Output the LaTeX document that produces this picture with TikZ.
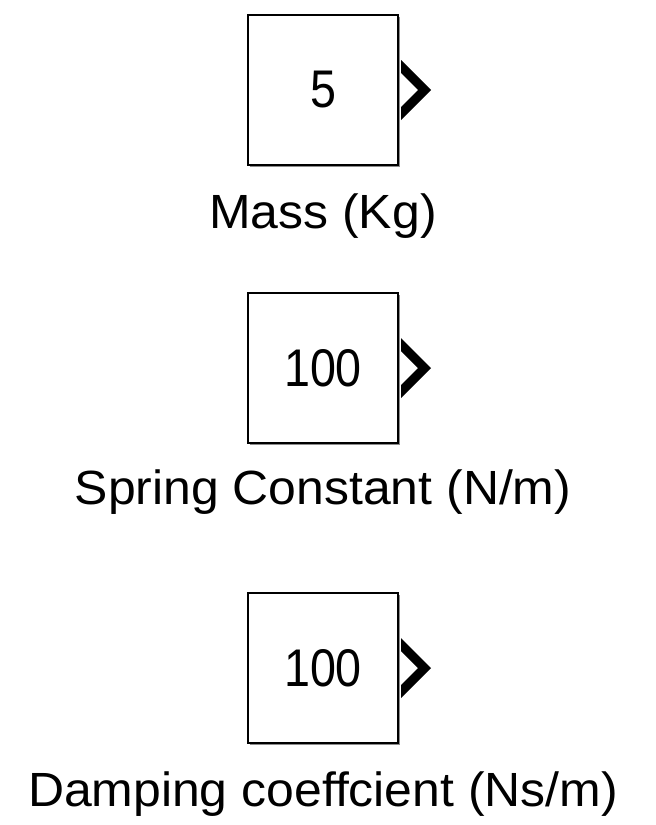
\documentclass[tikz,border=0pt]{standalone}
\usepackage{fontspec}
\setmainfont{Liberation Sans}
\newfontfamily\captionfont[FakeStretch=1.04]{Liberation Sans}
\newfontfamily\valuefont[FakeStretch=0.88]{Liberation Sans}
\usetikzlibrary{
    positioning,
    shadows
}

\begin{document}
\begin{tikzpicture}[
    x=0.5pt, y=-0.5pt,
    block/.style={
        draw,
        line width=1pt,
        fill=white,
        minimum width=75pt,
        minimum height=75pt,
        inner sep=0pt,
        font=\valuefont\fontsize{26.5pt}{30pt}\selectfont,
        drop shadow={shadow xshift=0.8pt, shadow yshift=-0.8pt,
            opacity=0.45, fill=black}
    },
    caption/.style={
        anchor=base,
        inner sep=0pt,
        font=\captionfont\fontsize{24pt}{28pt}\selectfont
    },
    port/.style={
        fill=black
    }
]

\fill[white] (0,0) rectangle (655,825);

\node[block] (mass) at (323,90) {5};
\node[block, below=63pt of mass] (spring) {100};
\node[block, below=74pt of spring] (damper) {100};

\node[caption] (masslabel) at ([yshift=-31pt]mass.south)
{Mass (Kg)};
\node[caption] (springlabel) at ([yshift=-30pt]spring.south)
{Spring Constant (N/m)};
\node[caption] (damperlabel) at ([yshift=-31pt]damper.south)
{Damping coeffcient (Ns/m)};

% output ports
\foreach \blk in {mass,spring,damper}
    \fill[port] ([shift={(1pt,15pt)}]\blk.east) -- ++(15pt,-15pt)
        -- ++(-15pt,-15pt) -- ++(0,6.5pt) -- ++(8.5pt,8.5pt)
        -- ++(-8.5pt,8.5pt) -- cycle;

\end{tikzpicture}
\end{document}
